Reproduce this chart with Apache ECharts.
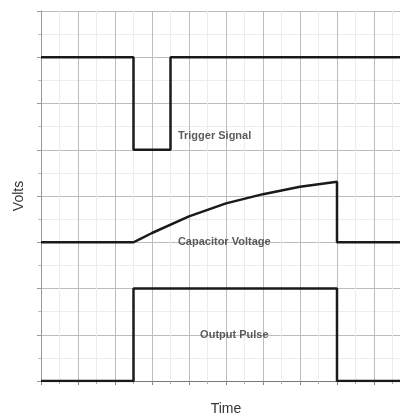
<!DOCTYPE html>
<html>
<head>
<meta charset="utf-8">
<script src="https://cdn.jsdelivr.net/npm/echarts@6/dist/echarts.min.js"></script>
<style>
  html, body { margin: 0; padding: 0; background: #fff; }
  #chart { width: 400px; height: 417px; }
</style>
</head>
<body>
<div id="chart"></div>
<script>
// time / volts pairs
const triggerSignal = [[0, 7], [2.5, 7], [2.5, 5], [3.5, 5], [3.5, 7], [10, 7]];
const capacitorVoltage = [[0, 3], [2.5, 3], [2.7, 3.08], [3, 3.2], [4, 3.56], [5, 3.84], [6, 4.04], [7, 4.2], [8, 4.31], [8, 3], [10, 3]];
const outputPulse = [[0, 0], [2.5, 0], [2.5, 2], [8, 2], [8, 0], [10, 0]];

const labelNames = ["Trigger Signal", "Capacitor Voltage", "Output Pulse"];
const labelPoints = [[3.7, 5.3], [3.7, 3.0], [4.3, 1.0]];

const chart = echarts.init(document.getElementById("chart"));

const lineStyle = { color: "#1a1a1a", width: 2.5 };

const option = {
  animation: false,
  grid: { left: 41, top: 11, width: 370, height: 370, outerBoundsMode: "none" },
  xAxis: {
    type: "value",
    min: 0,
    max: 10,
    interval: 1,
    name: "Time",
    nameLocation: "middle",
    nameGap: 21,
    nameTextStyle: { color: "#333", fontSize: 14, fontFamily: "Liberation Sans" },
    axisLine: { lineStyle: { color: "#777" } },
    axisTick: { show: true, length: 4, lineStyle: { color: "#888" } },
    minorTick: { show: true, splitNumber: 2, length: 3, lineStyle: { color: "#aaa" } },
    axisLabel: { show: false },
    splitLine: { show: true, lineStyle: { color: "#bdbdbd", width: 1 } },
    minorSplitLine: { show: true, lineStyle: { color: "#ececec", width: 1 } },
  },
  yAxis: {
    type: "value",
    min: 0,
    max: 8,
    interval: 1,
    name: "Volts",
    nameLocation: "middle",
    nameGap: 15,
    nameTextStyle: { color: "#333", fontSize: 14, fontFamily: "Liberation Sans" },
    axisLine: { show: true, lineStyle: { color: "#999" } },
    axisTick: { show: true, length: 4, lineStyle: { color: "#999" } },
    minorTick: { show: true, splitNumber: 2, length: 3, lineStyle: { color: "#bbb" } },
    axisLabel: { show: false },
    splitLine: { show: true, lineStyle: { color: "#bdbdbd", width: 1 } },
    minorSplitLine: { show: true, lineStyle: { color: "#ececec", width: 1 } },
  },
  series: [
    {
      name: "Trigger Signal",
      type: "line",
      data: triggerSignal,
      showSymbol: false,
      lineStyle: lineStyle,
    },
    {
      name: "Capacitor Voltage",
      type: "line",
      data: capacitorVoltage,
      showSymbol: false,
      lineStyle: lineStyle,
    },
    {
      name: "Output Pulse",
      type: "line",
      data: outputPulse,
      showSymbol: false,
      lineStyle: lineStyle,
    },
    {
      name: "labels",
      type: "scatter",
      symbolSize: 0,
      data: labelPoints.map((p, i) => ({ value: p, name: labelNames[i] })),
      label: {
        show: true,
        position: "right",
        distance: 0,
        formatter: (p) => p.name,
        color: "#333",
        fontSize: 11,
        fontWeight: "bold",
        fontFamily: "Liberation Sans",
      },
    },
  ],
};

option && chart.setOption(option);
</script>
</body>
</html>
